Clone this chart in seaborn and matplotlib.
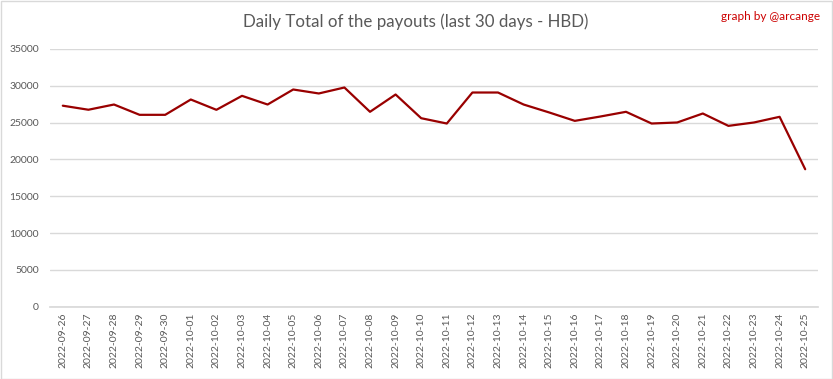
import matplotlib
matplotlib.use("Agg")
import matplotlib.pyplot as plt
import seaborn as sns
import pandas as pd
from matplotlib.patches import Rectangle

dates = ["2022-09-26", "2022-09-27", "2022-09-28", "2022-09-29", "2022-09-30",
         "2022-10-01", "2022-10-02", "2022-10-03", "2022-10-04", "2022-10-05",
         "2022-10-06", "2022-10-07", "2022-10-08", "2022-10-09", "2022-10-10",
         "2022-10-11", "2022-10-12", "2022-10-13", "2022-10-14", "2022-10-15",
         "2022-10-16", "2022-10-17", "2022-10-18", "2022-10-19", "2022-10-20",
         "2022-10-21", "2022-10-22", "2022-10-23", "2022-10-24", "2022-10-25"]
payouts = [27300, 26750, 27460, 26060, 26060,
           28140, 26740, 28640, 27460, 29500,
           28960, 29770, 26470, 28820, 25600,
           24880, 29090, 29090, 27460, 26380,
           25240, 25830, 26470, 24880, 25020,
           26240, 24560, 25020, 25790, 18670]
yticks = [0, 5000, 10000, 15000, 20000, 25000, 30000, 35000]

sns.set_theme(style="white")
plt.rcParams['font.family'] = ['Lato', 'DejaVu Sans']

df = pd.DataFrame({"date": dates, "payout": payouts})

fig = plt.figure(figsize=(8.33, 3.79), dpi=100)
ax = fig.add_axes([50/833, 1 - 306.7/379, (818 - 50)/833, (306.7 - 49)/379])

sns.lineplot(data=df, x="date", y="payout", ax=ax, color="#990000",
             linewidth=1.6, sort=False)

ax.set_xlim(-0.5, len(dates) - 0.5)
ax.set_ylim(0, 35000)
ax.set_yticks(yticks)
ax.set_yticklabels([str(v) for v in yticks])
ax.set_xticks(range(len(dates)))
ax.set_xticklabels(dates, rotation=90)
ax.tick_params(axis="both", length=0, labelsize=7.5, colors="#595959")
ax.tick_params(axis="x", pad=4)
ax.tick_params(axis="y", pad=8)
ax.yaxis.grid(True, color="#d9d9d9", linewidth=1)
ax.xaxis.grid(False)
ax.set_axisbelow(True)
for s in ["top", "right", "left"]:
    ax.spines[s].set_visible(False)
ax.spines["bottom"].set_color("#d9d9d9")
ax.set_xlabel("")
ax.set_ylabel("")

fig.text(416/833, 1 - 22/379, "Daily Total of the payouts (last 30 days - HBD)",
         ha="center", va="center", fontsize=12.2, color="#595959")
fig.text(820/833, 1 - 17/379, "graph by @arcange", ha="right", va="center",
         fontsize=8.5, color="#cc0000")

fig.patches.append(Rectangle((0.5/833, 0.5/379), 1 - 1.5/833, 1 - 1.5/379,
                             transform=fig.transFigure, fill=False,
                             edgecolor="#d9d9d9", linewidth=1))

fig.savefig("out.png", dpi=100)
